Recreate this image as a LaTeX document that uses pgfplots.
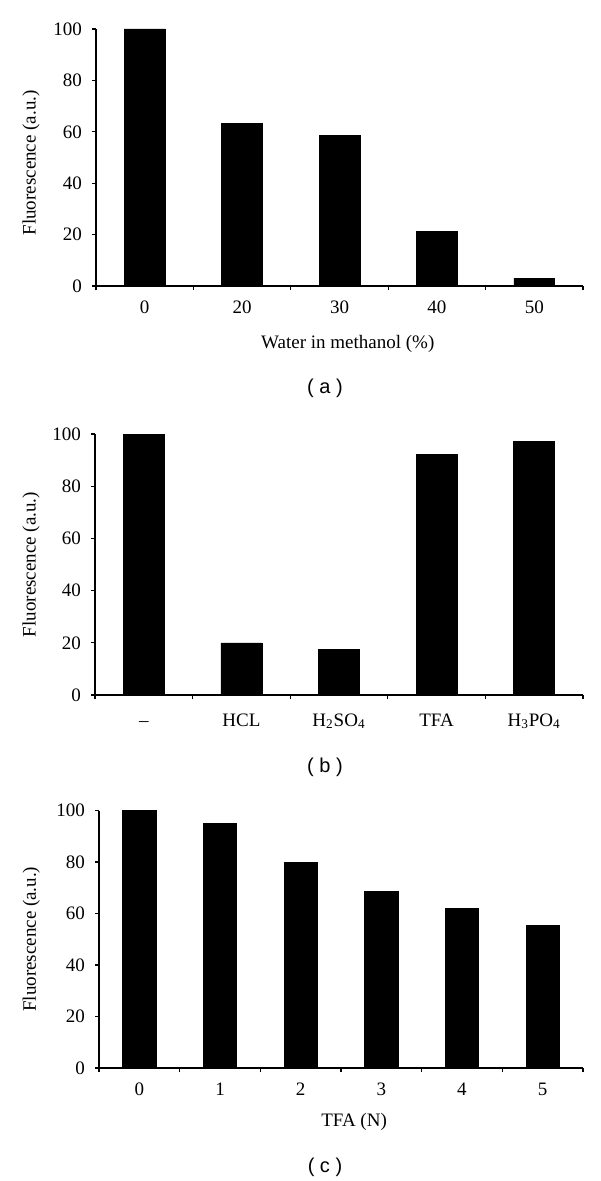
\documentclass[border=0pt]{standalone}
\usepackage{fontspec}
\setmainfont{Liberation Serif}
\newfontfamily\sansf{Liberation Sans}
\usepackage{pgfplots}
\pgfplotsset{compat=1.18}
\pgfplotsset{
  panel/.style={
    scale only axis,
    axis x line*=bottom, axis y line*=left,
    axis line style={line width=0.6pt},
    ymin=0, ymax=100, ytick={0,20,40,60,80,100},
    tick align=outside,
    major tick length=2pt, minor tick length=2.2pt,
    major x tick style={draw=none},
    tick style={line width=0.6pt, black},
    /pgf/number format/assume math mode=true,
    ticklabel style={font=\fontsize{9.5}{11}\selectfont},
    label style={font=\fontsize{9.5}{11}\selectfont},
    yticklabel style={anchor=east, xshift=-1.5pt},
    xticklabel style={anchor=base, yshift=-12pt},
    ybar, bar width=0.42,
    clip=false,
  },
  barstyle/.style={fill=black, draw=black, line width=0.3pt},
}
\begin{document}
\begin{tikzpicture}
\path[use as bounding box] (0pt,0pt) rectangle (300pt,-590.5pt);

% (a)
\begin{axis}[panel, at={(48pt,-143pt)}, anchor=south west,
  width=243.5pt, height=128.5pt,
  xmin=-0.5, xmax=4.5, xtick={0,1,2,3,4},
  xticklabels={0,20,30,40,50},
  minor xtick={-0.5,0.5,1.5,2.5,3.5,4.5},
  xlabel={Water in methanol (\%)},
  xlabel style={at={(axis description cs:0.517,0)}, anchor=base, yshift=-31pt},
  ylabel={Fluorescence (a.u.)},
  ylabel style={at={(axis description cs:-0.1335,0.479)}, anchor=center},
]
\addplot[barstyle] coordinates {(0,100) (1,63.4) (2,58.6) (3,21.3) (4,3.1)};
\end{axis}

% (b)
\begin{axis}[panel, at={(47.5pt,-347.5pt)}, anchor=south west,
  width=244pt, height=130.5pt,
  xmin=-0.5, xmax=4.5, xtick={0,1,2,3,4},
  xticklabels={–,HCL,H\textsubscript{2}SO\textsubscript{4},TFA,H\textsubscript{3}PO\textsubscript{4}},
  xticklabel style={yshift=-1.5pt},
  minor xtick={-0.5,0.5,1.5,2.5,3.5,4.5},
  ylabel={Fluorescence (a.u.)},
  ylabel style={at={(axis description cs:-0.131,0.5)}, anchor=center},
]
\addplot[barstyle] coordinates {(0,100) (1,20.0) (2,17.6) (3,92.2) (4,97.3)};
\end{axis}

% (c)
\begin{axis}[panel, at={(49.5pt,-534pt)}, anchor=south west,
  width=242pt, height=128.75pt,
  xmin=-0.5, xmax=5.5, xtick={0,1,2,3,4,5},
  xticklabels={0,1,2,3,4,5},
  bar width=0.41,
  minor xtick={-0.5,0.5,1.5,2.5,3.5,4.5,5.5},
  xticklabel style={yshift=0.5pt},
  xlabel={TFA (N)},
  xlabel style={at={(axis description cs:0.527,0)}, anchor=base, yshift=-29pt},
  ylabel={Fluorescence (a.u.)},
  ylabel style={at={(axis description cs:-0.140,0.5)}, anchor=center},
]
\addplot[barstyle] coordinates {(0,100) (1,95.0) (2,79.7) (3,68.7) (4,62.0) (5,55.3)};
\end{axis}

\node[font=\sansf\fontsize{10}{12}\selectfont] at (162.5pt,-194pt) {( a )};
\node[font=\sansf\fontsize{10}{12}\selectfont] at (162.5pt,-383.5pt) {( b )};
\node[font=\sansf\fontsize{10}{12}\selectfont] at (162.5pt,-583.5pt) {( c )};
\end{tikzpicture}
\end{document}
